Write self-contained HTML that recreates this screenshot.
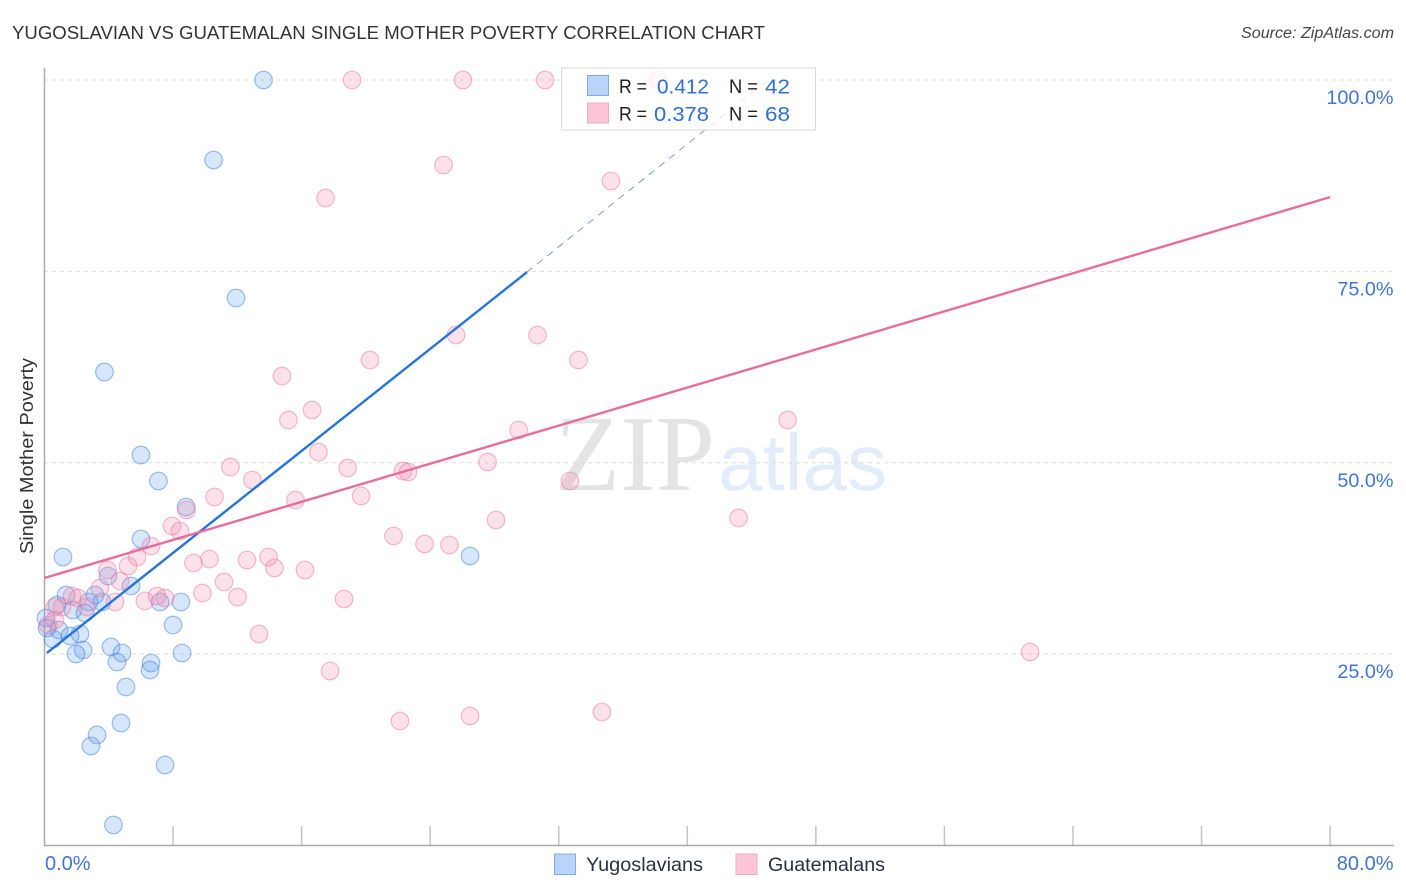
<!DOCTYPE html>
<html lang="en">
<head>
<meta charset="utf-8">
<title>Yugoslavian vs Guatemalan Single Mother Poverty Correlation Chart</title>
<style>
html,body{margin:0;padding:0;background:#fff;width:1406px;height:892px;overflow:hidden}
svg{display:block;font-family:"Liberation Sans",sans-serif}
</style>
</head>
<body>
<svg id="chart" xmlns="http://www.w3.org/2000/svg" width="1406" height="892" viewBox="0 0 1406 892">
  <g>
    <text x="555" y="490" font-family="'Liberation Serif',serif" font-size="108" fill="#e4e4e4" textLength="160" lengthAdjust="spacingAndGlyphs">ZIP</text>
    <text x="718" y="490" font-size="80" fill="#e3edf9" textLength="169" lengthAdjust="spacingAndGlyphs">atlas</text>
  </g>
  <g id="grid"></g>
  <g id="ticks"></g>
  <g id="axes"></g>
  <g id="blue-points"></g>
  <g id="pink-points"></g>
  <g id="trends"></g>
  <g id="labels"></g>

  <text x="12" y="39" font-size="18.5" fill="#333" textLength="753" lengthAdjust="spacingAndGlyphs">YUGOSLAVIAN VS GUATEMALAN SINGLE MOTHER POVERTY CORRELATION CHART</text>
  <text x="1241" y="38" font-size="15.5" font-style="italic" fill="#444" textLength="153" lengthAdjust="spacingAndGlyphs">Source: ZipAtlas.com</text>
  <text transform="translate(33,456) rotate(-90)" font-size="18" fill="#333" text-anchor="middle" textLength="196" lengthAdjust="spacingAndGlyphs">Single Mother Poverty</text>

  <g>
    <rect x="561.5" y="68" width="254" height="62" fill="#fff" fill-opacity="0.78" stroke="#d9d9d9" stroke-width="1"/>
    <rect x="587.5" y="75.5" width="21" height="20" fill="#b9d4f8" stroke="#7fabe6"/>
    <rect x="587.5" y="103" width="21" height="20" fill="#fcc6d8" stroke="#f3a9c2"/>
    <g font-size="19.5" fill="#222">
      <text x="619" y="93" textLength="28" lengthAdjust="spacingAndGlyphs">R =</text>
      <text x="729" y="93" textLength="29" lengthAdjust="spacingAndGlyphs">N =</text>
      <text x="619" y="120.5" textLength="28" lengthAdjust="spacingAndGlyphs">R =</text>
      <text x="729" y="120.5" textLength="29" lengthAdjust="spacingAndGlyphs">N =</text>
    </g>
    <g font-size="20.5" fill="#2f6fd0">
      <text x="657" y="93.5" textLength="52" lengthAdjust="spacingAndGlyphs">0.412</text>
      <text x="765" y="93.5" textLength="25" lengthAdjust="spacingAndGlyphs">42</text>
      <text x="654" y="121" textLength="55" lengthAdjust="spacingAndGlyphs">0.378</text>
      <text x="765" y="121" textLength="25" lengthAdjust="spacingAndGlyphs">68</text>
    </g>
  </g>

  <g>
    <rect x="554.5" y="854" width="21" height="20.5" fill="#b9d4f8" stroke="#7fabe6"/>
    <text x="586" y="871" font-size="19.5" fill="#2b3040" textLength="117" lengthAdjust="spacingAndGlyphs">Yugoslavians</text>
    <rect x="736" y="854" width="21" height="20.5" fill="#fcc6d8" stroke="#f3a9c2"/>
    <text x="768" y="871" font-size="19.5" fill="#2b3040" textLength="117" lengthAdjust="spacingAndGlyphs">Guatemalans</text>
  </g>
</svg>
<script>
const blueX = [13.63,10.52,11.92,3.73,6.00,7.09,8.81,6.00,1.15,26.48,3.95,5.38,1.34,3.14,8.49,7.19,0.78,2.77,3.58,1.77,2.52,8.00,0.09,0.90,0.53,2.21,1.59,0.16,4.14,2.40,1.96,4.82,8.56,6.63,4.51,6.57,5.07,4.76,3.27,2.89,7.50,4.29];
const blueY = [100,89.55,71.52,61.85,51.01,47.62,44.22,40.04,37.69,37.82,35.21,33.90,32.72,32.72,31.81,31.81,31.42,31.81,31.81,30.76,30.37,28.80,29.72,28.15,26.98,27.63,27.37,28.41,25.93,25.54,25.02,25.15,25.15,23.84,23.97,22.93,20.71,16.00,14.44,13.00,10.52,2.68];
const pinkX = [19.14,26.04,31.15,38.18,24.83,35.25,17.49,25.61,30.68,20.26,33.23,14.78,46.24,15.18,16.65,29.50,17.05,11.57,27.57,18.86,22.31,22.62,12.94,32.70,10.58,15.62,19.70,8.84,28.10,43.19,7.93,8.43,21.72,23.65,25.20,6.63,5.76,10.27,9.27,12.60,13.94,5.20,3.92,14.31,16.21,4.70,3.45,11.17,9.83,12.01,18.64,4.39,6.25,7.00,7.50,1.71,1.09,2.64,13.35,17.77,61.33,22.12,26.48,34.69,2.08,0.65,0.22,0.65];
const pinkY = [100,100,100,100,88.90,86.81,84.58,66.69,66.69,63.42,63.42,61.33,55.58,55.58,56.89,54.28,51.40,49.44,50.10,49.31,48.92,48.79,47.75,47.62,45.53,45.13,45.66,43.83,42.52,42.78,41.74,41.08,40.43,39.39,39.26,39.12,37.69,37.43,36.90,37.30,37.69,36.51,35.99,36.25,35.99,34.55,33.64,34.42,32.98,32.46,32.20,31.81,31.94,32.59,32.33,32.59,31.16,31.16,27.63,22.80,25.28,16.26,16.92,17.44,32.33,31.16,28.80,29.46];
const blueTrendX = [0.15, 30.02];
const blueTrendY = [25.15, 74.90];
const blueTrendExtendX = [30.02, 45.0];
const blueTrendExtendY = [74.90, 100];
const pinkTrendX = [0, 80];
const pinkTrendY = [34.95, 84.70];
const yTickValues = [25, 50, 75, 100];
const yTickLabels = ["25.0%", "50.0%", "75.0%", "100.0%"];
const xTickValues = [8, 16, 24, 32, 40, 48, 56, 64, 72, 80];
const xEndValues = [0, 80];
const xEndLabels = ["0.0%", "80.0%"];

const NS = "http://www.w3.org/2000/svg";
const xScale = v => 44.5 + v * 16.07;
const yScale = v => 845.5 - v * 7.655;
function make(tag, parentId, attrs) {
  const el = document.createElementNS(NS, tag);
  for (const k in attrs) el.setAttribute(k, attrs[k]);
  document.getElementById(parentId).appendChild(el);
  return el;
}

yTickValues.forEach(v => {
  const el = make("line", "grid", {x1: 44, x2: 1394, y1: yScale(v), y2: yScale(v), stroke: "#dcdcdc", "stroke-width": 1, "stroke-dasharray": "4 4"});
  
  
});

xTickValues.forEach(v => {
  const el = make("line", "ticks", {x1: xScale(v), x2: xScale(v), y1: 826, y2: 845, stroke: "#c4c4c4", "stroke-width": 1.5});
  
  
});

const yAxis = make("line", "axes", {x1: 44.5, x2: 44.5, y1: 68, y2: 846, stroke: "#aaaaaa", "stroke-width": 1.5});


const xAxis = make("line", "axes", {x1: 44, x2: 1394, y1: 845.5, y2: 845.5, stroke: "#aaaaaa", "stroke-width": 1.5});



blueX.forEach((v, i) => {
  const el = make("circle", "blue-points", {cx: xScale(v), cy: yScale(blueY[i]), r: 8.8, fill: "#5f9ff0", "fill-opacity": 0.26, stroke: "#3f80dc", "stroke-opacity": 0.5, "stroke-width": 1.2});
  
  
});

pinkX.forEach((v, i) => {
  const el = make("circle", "pink-points", {cx: xScale(v), cy: yScale(pinkY[i]), r: 8.8, fill: "#f58aae", "fill-opacity": 0.26, stroke: "#e9779f", "stroke-opacity": 0.5, "stroke-width": 1.2});
  
  
});

const blueExt = make("line", "trends", {x1: xScale(blueTrendExtendX[0]), y1: yScale(blueTrendExtendY[0]), x2: xScale(blueTrendExtendX[1]), y2: yScale(blueTrendExtendY[1]), stroke: "#7f9cc4", "stroke-width": 1, "stroke-dasharray": "7 6"});


const blueTrend = make("line", "trends", {x1: xScale(blueTrendX[0]), y1: yScale(blueTrendY[0]), x2: xScale(blueTrendX[1]), y2: yScale(blueTrendY[1]), stroke: "#2474dc", "stroke-width": 2.4});


const pinkTrend = make("line", "trends", {x1: xScale(pinkTrendX[0]), y1: yScale(pinkTrendY[0]), x2: xScale(pinkTrendX[1]), y2: yScale(pinkTrendY[1]), stroke: "#e96d9b", "stroke-width": 2.4});



yTickValues.forEach((v, i) => {
  const el = make("text", "labels", {x: 1393.5, y: yScale(v) + 24, "font-size": 19.8, fill: "#4274d4", "text-anchor": "end"});
  el.textContent = yTickLabels[i];
  
  
});

xEndValues.forEach((v, i) => {
  const el = make("text", "labels", {x: i === 0 ? xScale(v) + 0.5 : 1393.5, y: 870, "font-size": 20, fill: "#4274d4", "text-anchor": i === 0 ? "start" : "end"});
  el.textContent = xEndLabels[i];
  
  
});
</script>
</body>
</html>
